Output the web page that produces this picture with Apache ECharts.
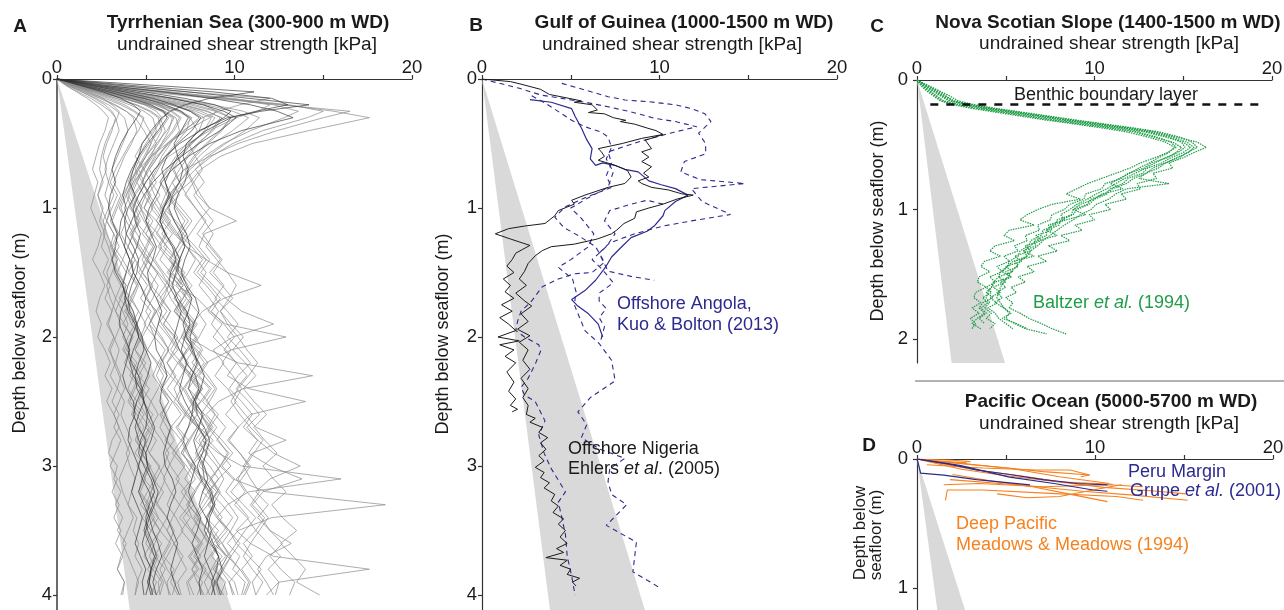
<!DOCTYPE html>
<html>
<head>
<meta charset="utf-8">
<script src="https://cdn.jsdelivr.net/npm/echarts@6/dist/echarts.min.js"></script>
<style>
  html, body { margin: 0; padding: 0; background: #fff; }
  #chart { width: 1284px; height: 610px; }
</style>
</head>
<body>
<div id="chart"></div>
<script>
// ---- data (kPa vs depth in m) ----
const strengthTicks = [0, 5, 10, 15, 20];
const strengthLabels = [0, 10, 20];

// A: Tyrrhenian Sea, shared depth steps
const aDepth = [0,0.05,0.1,0.15,0.2,0.25,0.3,0.4,0.5,0.6,0.7,0.8,0.9,1.0,1.1,1.2,1.3,1.4,1.5,1.6,1.7,1.8,1.9,2.0,2.1,2.2,2.3,2.4,2.5,2.6,2.7,2.8,2.9,3.0,3.1,3.2,3.3,3.4,3.5,3.6,3.7,3.8,3.9,4.0];
const tyrrhenianGrey = [
  [0,0.9,1.8,2.6,3.1,3.5,3.4, 3.0,2.7,2.5,2.4,2.6,2.3,2.5, 2.8,2.6,2.9,3.1,2.8,3.0,3.3,3.1,2.9,3.2, 3.5,3.3,3.6,3.4,3.8,3.6,3.9,4.2,3.9,4.1, 4.4,4.2,4.0,4.5,4.3,4.6,4.4,4.8,4.5,4.4],
  [0,1.5,3.2,4.6,5.8,6.3,6.0, 5.4,4.8,4.4,4.9,4.3,4.0,4.4, 4.7,4.2,4.5,5.1,4.8,5.3,5.0,5.6,5.2,5.5, 6.1,5.7,5.4,5.9,6.3,5.8,6.2,6.6,6.1,6.4, 6.9,6.5,6.2,6.7,7.1,6.6,6.9,7.3,6.8,7.0],
  [0,2.2,5.5,9.2,12.8,15.6,17.6, 14.2,11.0,9.2,8.1,7.5,6.6,6.0, 5.6,6.1,5.7,6.3,6.8,6.4,7.0,6.6,7.2,7.8, 7.3,6.9,7.5,8.1,7.7,8.3,7.9,8.4,8.0,8.6, 9.1,8.5,8.8,9.3,8.7,9.0,9.6,9.2,8.9,9.4],
  [0,2.0,5.0,8.8,12.6,16.5,15.0, 12.4,10.2,8.6,7.2,6.5,6.9,6.2, 5.8,5.4,5.9,5.5,6.0,6.6,6.1,5.7,6.3,6.8, 6.4,7.0,7.6,7.1,6.8,7.3,7.9,7.4,7.0,7.7, 8.2,7.8,7.4,8.0,8.5,8.1,7.7,8.3,8.8,8.4],
  [0,0.8,1.9,2.9,3.8,4.4,4.9, 4.6,4.1,3.7,3.3,3.0,3.4,3.1, 2.8,3.2,3.5,3.1,3.4,3.9,3.6,3.3,3.8,4.2, 3.8,4.1,4.6,4.3,4.0,4.5,4.9,4.5,4.8,5.2, 4.9,4.6,5.1,5.5,5.0,5.3,5.7,5.4,5.1,5.6],
  [0,1.4,3.0,4.8,6.4,7.5,8.0, 7.2,6.3,5.6,5.1,4.8,5.3,4.9, 5.6,6.2,5.8,6.5,7.2,6.8,7.9,8.6,9.5,12.9, 9.8,8.4,7.9,8.6,8.1,7.4,8.0,8.8,8.2,7.6, 8.3,9.0,8.5,7.9,8.6,9.2,8.7,9.4,8.9,9.1],
  [0,1.1,2.6,4.1,5.5,6.4,6.9, 6.5,5.9,5.3,4.8,4.5,4.9,5.4, 5.0,5.7,6.2,5.8,6.4,7.1,6.6,7.3,7.9,7.4, 8.6,10.2,14.4,10.5,9.1,8.4,9.0,8.5,9.2,9.8, 9.1,8.6,9.3,9.9,9.4,8.8,9.6,10.3,9.7,9.9],
  [0,1.6,3.4,5.3,7.0,8.4,9.3, 8.8,7.9,7.3,6.6,6.9,6.3,6.8, 7.4,6.9,7.6,8.2,7.7,8.4,9.0,8.5,9.3,8.8, 9.5,10.1,9.6,10.8,14.0,10.9,10.2,9.6,10.3,10.9, 10.4,9.8,10.5,11.2,10.6,10.1,10.8,11.5,11.0,11.2],
  [0,1.0,2.3,3.7,5.0,5.9,6.3, 5.8,5.2,4.7,4.4,4.8,4.3,4.7, 5.2,4.8,5.4,5.0,5.7,6.3,5.8,6.4,6.0,6.7, 7.3,6.8,7.4,8.0,7.5,8.1,8.7,8.2,9.1,10.4, 16.0,10.8,9.6,9.0,9.7,10.3,9.8,9.3,10.0,10.2],
  [0,1.3,2.9,4.5,6.0,7.0,7.6, 7.0,6.2,5.7,5.2,5.6,5.1,5.5, 6.0,5.6,6.2,6.8,6.3,6.9,7.5,7.0,7.7,7.2, 7.9,8.5,8.0,8.7,8.2,8.9,9.5,9.0,9.7,9.2, 9.9,11.8,18.5,12.1,10.2,9.6,10.3,9.9,10.6,10.4],
  [0,1.2,2.8,4.3,5.6,6.5,7.0, 6.6,6.0,5.4,4.9,5.3,5.8,5.3, 5.9,6.5,6.0,6.7,6.2,6.9,7.6,7.1,7.8,7.3, 8.1,7.6,8.3,8.9,8.4,9.1,8.6,9.3,9.9,9.3, 10.0,9.5,10.2,10.8,10.1,10.9,12.2,17.6,12.5,11.8],
  [0,1.7,3.7,5.7,7.5,8.9,9.8, 9.2,8.4,7.7,7.2,7.6,7.9,8.6, 10.1,8.3,8.0,8.6,8.1,8.8,9.5,10.4,12.2,9.9, 8.8,9.4,8.9,9.6,10.1,9.5,10.2,9.7,10.3,10.8, 10.1,10.6,10.0,10.7,11.2,10.5,11.0,10.4,10.9,10.6],
  [0,2.5,6.2,9.5,12.0,11.3,10.1, 8.6,7.4,6.3,5.5,5.0,4.6,4.2, 4.5,4.1,4.6,5.0,4.6,5.1,4.7,5.3,4.9,5.5, 5.1,5.7,6.2,5.8,6.3,5.9,6.5,6.1,6.7,7.2, 6.7,7.3,6.9,7.5,7.0,7.6,8.1,7.6,8.2,7.9],
  [0,0.6,1.4,2.2,2.9,3.4,3.8, 4.0,3.7,3.4,3.1,2.9,2.7,3.0, 2.8,3.2,3.0,3.4,3.2,3.6,3.3,3.7,4.0,3.7, 4.1,3.8,4.3,4.0,4.5,4.2,4.7,4.4,4.9,4.5, 5.0,4.7,5.2,4.8,5.3,5.0,5.5,5.1,5.6,5.3],
  [0,1.9,4.2,6.6,8.8,10.5,11.4, 10.6,9.5,8.5,7.8,8.3,7.7,8.2, 8.8,8.2,8.7,9.3,8.8,9.4,8.9,9.6,10.2,9.6, 10.3,10.9,10.2,9.7,10.4,11.0,10.5,11.3,10.8,12.0, 13.8,11.6,11.0,11.7,11.2,11.9,12.6,11.9,12.5,12.3],
  [0,1.0,2.4,3.8,5.1,6.0,6.6, 6.2,5.6,5.0,4.5,4.1,3.8,3.5, 3.9,3.6,4.0,4.4,4.0,4.5,4.1,4.6,4.2,4.8, 4.4,5.0,4.6,5.2,4.8,5.4,5.0,5.6,5.2,5.8, 5.4,6.0,5.6,6.2,5.8,6.4,6.0,6.6,6.2,6.3],
  [0,1.8,4.0,6.3,8.3,9.0,8.6, 7.3,6.2,5.3,4.6,4.1,3.7,3.4, 3.1,3.5,3.2,3.7,3.4,3.9,3.5,4.1,3.7,4.3, 3.9,4.5,4.1,4.7,4.3,4.9,4.5,5.1,4.7,5.3, 4.9,5.5,5.1,5.7,5.3,5.9,5.5,6.1,5.7,5.8],
  [0,0.7,1.6,2.5,3.3,3.9,4.3, 4.5,4.2,3.8,3.5,3.2,3.6,3.3, 3.0,3.4,3.1,3.5,3.9,3.6,4.2,3.8,4.4,4.0, 3.7,4.3,4.8,4.4,4.1,4.7,5.2,4.8,4.4,5.0, 5.5,5.1,4.7,5.3,5.8,5.3,4.9,5.4,5.9,5.6],
  [0,1.5,3.3,5.1,6.8,8.1,8.9, 8.4,7.6,6.9,6.3,5.8,6.4,6.0, 6.7,7.3,6.8,6.3,7.0,7.6,7.1,6.6,7.3,7.9, 7.4,6.9,7.6,8.2,7.7,7.2,7.9,8.5,8.0,7.5, 8.2,8.8,8.3,7.8,8.5,9.1,8.6,8.1,8.8,8.9],
  [0,1.2,2.7,4.3,5.7,6.8,7.5, 7.9,7.4,7.8,8.2,7.7,8.1,8.6, 8.0,7.5,7.0,6.6,7.1,6.7,7.3,6.8,7.5,7.0, 7.7,7.2,7.9,7.4,8.1,7.6,8.3,7.8,8.5,8.0, 8.7,8.2,8.9,8.4,9.1,8.6,9.3,8.8,9.5,9.2],
  [0,0.5,1.1,1.7,2.2,2.6,2.9, 2.7,2.4,2.2,2.0,2.3,2.1,1.9, 2.2,2.5,2.3,2.0,2.4,2.7,2.4,2.2,2.5,2.3, 2.7,3.0,2.7,3.1,2.8,3.2,3.5,3.1,2.9,3.4, 3.2,3.6,3.3,3.7,3.4,3.9,3.6,3.4,3.8,3.7],
  [0,2.7,6.4,9.9,12.2,13.6,12.8, 10.9,9.4,8.3,7.5,6.9,6.3,5.9, 6.4,5.9,6.5,7.0,6.5,7.1,6.6,7.2,7.7,7.2, 7.8,8.3,7.7,8.2,7.6,8.3,8.8,8.2,8.7,9.2, 8.6,9.1,8.5,9.0,9.6,9.0,9.5,8.9,9.4,9.6],
  [0,1.1,2.4,3.7,4.9,5.6,5.9, 5.5,5.0,4.6,4.3,4.0,4.4,4.8, 4.4,5.0,5.5,5.1,5.7,5.3,5.9,6.4,6.0,6.6, 6.2,6.8,6.4,7.0,6.6,7.2,6.8,7.4,7.0,7.6, 7.2,7.8,7.4,8.0,7.6,8.2,7.8,8.4,8.0,8.2],
  [0,3.2,7.3,12.0,10.3,9.1,8.2, 7.1,6.3,5.7,5.2,4.8,5.2,4.9, 5.4,5.0,5.5,5.1,5.6,6.1,5.6,6.2,5.7,6.3, 6.8,6.2,6.7,6.2,6.8,7.3,6.7,7.2,6.7,7.3, 7.8,7.2,7.7,7.1,7.6,8.1,7.5,8.0,7.4,7.7],
  [0,0.9,2.1,3.3,4.4,5.2,5.7, 5.9,5.5,5.0,4.6,4.9,4.4,4.1, 4.6,4.2,4.7,5.2,4.8,5.4,5.0,5.6,5.2,5.8, 6.3,5.8,6.4,5.9,6.5,7.0,6.4,7.0,6.5,7.1, 7.6,7.0,7.5,6.9,7.5,8.0,7.4,7.9,7.3,7.5],
  [0,1.3,3.0,4.8,6.5,7.8,8.7, 8.3,7.6,7.0,6.5,6.9,6.4,7.0, 7.6,7.1,7.8,8.4,7.9,8.6,9.2,8.7,9.4,10.0, 9.4,10.1,10.7,10.1,10.8,11.4,10.7,11.3,12.2,13.7, 12.0,11.2,11.9,11.3,12.0,12.7,12.0,12.6,13.4,13.1],
  [0,1.8,3.9,6.0,7.8,9.1,9.8, 9.3,8.5,7.8,7.3,7.7,7.2,7.8, 8.4,7.9,8.6,9.2,8.6,9.3,9.9,9.2,9.8,10.5, 9.9,10.6,11.2,10.5,11.1,11.8,11.1,11.7,12.4,11.6, 12.2,12.9,12.1,12.7,13.5,12.6,13.3,14.0,13.5,14.8],
  [0,0.6,1.4,2.1,2.7,3.1,3.3, 3.1,2.8,2.6,2.8,2.5,2.3,2.6, 2.4,2.7,2.5,2.9,2.6,3.0,2.7,3.1,2.8,3.2, 2.9,3.3,3.0,3.4,3.1,3.5,3.2,3.6,3.3,3.0, 3.4,3.1,3.5,3.2,3.6,3.3,3.7,3.4,3.8,3.6],
  [0,1.2,2.6,4.0,5.2,6.1,6.7, 6.9,6.4,5.9,5.6,5.2,5.5,5.9, 6.3,6.8,7.2,6.9,6.5,6.1,6.4,6.9,7.3,7.0, 6.6,6.2,6.6,7.1,7.5,7.9,7.4,7.0,7.3,7.8, 8.2,7.7,7.3,7.6,8.1,8.5,8.0,7.6,7.9,8.3],
  [0,0.8,1.7,2.7,3.6,4.3,4.8, 5.2,5.6,5.3,4.9,4.5,4.2,4.5, 4.9,5.3,5.0,4.6,4.3,4.7,5.1,5.5,5.2,4.8, 5.1,5.6,6.0,5.7,5.3,5.0,5.4,5.9,6.3,6.0, 5.6,5.3,5.7,6.2,6.6,6.3,5.9,6.2,6.7,6.5],
  [0,1.9,4.1,6.4,8.4,9.9,10.8, 9.9,8.8,8.0,7.4,6.9,7.3,7.8, 8.3,8.8,8.4,9.0,9.6,10.1,9.7,9.2,9.6,10.2, 10.7,11.3,10.8,10.2,9.8,10.3,10.9,11.6,11.1,10.6, 10.2,10.7,11.3,11.9,11.4,10.9,10.5,11.0,11.6,11.2],
  [0,0.7,1.5,2.4,3.2,3.9,4.4, 4.9,5.3,5.0,4.6,4.3,3.9,3.6, 3.9,4.3,4.0,3.7,4.1,4.6,4.3,3.9,4.2,4.7, 5.1,4.8,4.4,4.8,5.3,5.7,5.3,4.9,5.2,5.7, 6.1,5.8,5.4,5.7,6.2,6.6,6.2,5.8,6.1,6.4],
  [0,2.4,5.8,9.6,13.1,15.0,14.1, 11.6,9.9,8.7,7.8,7.1,6.6,6.2, 6.6,7.1,6.8,6.4,6.9,7.4,7.1,6.7,7.2,7.8, 8.2,7.8,7.4,7.9,8.5,8.9,8.5,8.0,8.4,9.0, 9.4,9.0,8.6,9.1,9.7,10.1,9.6,9.2,9.7,10.0],
  [0,1.0,2.2,3.4,4.5,5.3,5.8, 6.1,5.7,5.2,4.8,4.4,4.1,3.8, 4.1,4.5,4.9,5.4,5.9,6.3,6.0,5.6,5.9,6.4, 6.9,7.4,7.0,6.6,6.9,7.4,7.9,7.5,7.1,7.5, 8.0,8.5,8.1,7.7,8.1,8.6,9.1,8.7,8.3,8.6],
  [0,0.5,1.2,1.9,2.5,3.0,3.3, 3.5,3.2,2.9,2.7,2.9,3.2,2.9, 2.6,2.8,3.1,3.4,3.1,2.8,3.0,3.3,3.6,3.3, 3.0,3.2,3.5,3.8,3.5,3.2,3.5,3.8,4.1,3.8, 3.5,3.7,4.0,4.3,4.0,3.7,4.0,4.3,4.6,4.4],
  [0,1.6,3.5,5.5,7.2,8.5,9.2, 8.7,8.0,7.4,6.9,6.5,6.1,5.8, 6.2,6.7,7.3,7.8,7.4,6.9,7.3,7.9,8.4,8.0, 7.5,7.9,8.5,9.0,8.6,8.1,8.5,9.1,9.6,9.2, 8.7,9.1,9.7,10.2,9.8,9.3,9.7,10.3,10.8,10.5],
  [0,1.1,2.4,3.8,5.0,5.9,6.5, 6.3,5.9,5.5,5.1,4.8,5.2,5.7, 6.1,6.6,7.3,8.4,9.6,11.5,9.4,8.2,7.6,7.1, 7.5,8.0,7.6,7.2,7.6,8.1,8.6,8.2,7.8,8.2, 8.7,9.2,8.8,8.4,8.8,9.3,9.8,9.4,9.0,9.3],
  [0,1.3,2.9,4.4,5.8,6.9,7.5, 7.3,6.7,6.1,5.7,5.3,5.0,4.7, 5.0,5.4,5.1,4.8,5.2,5.7,5.4,5.0,5.4,5.9, 6.3,5.9,5.6,6.0,6.5,6.1,5.8,6.2,6.7,6.3, 6.0,6.4,6.9,6.5,6.2,6.6,7.1,6.7,6.4,6.8],
  [0,1.4,3.1,4.9,6.4,7.6,8.3, 8.0,7.3,6.7,6.2,5.8,6.2,6.7, 7.2,6.8,7.3,7.9,8.4,8.0,8.6,9.1,8.7,9.3, 9.8,9.3,9.9,10.4,10.0,10.6,11.2,12.9,11.0,10.5, 10.9,11.4,10.9,11.5,12.0,13.2,11.8,11.3,11.8,12.2],
  [0,0.9,2.0,3.1,4.1,4.9,5.4, 5.6,5.3,4.9,4.5,4.2,3.9,4.2, 4.6,4.3,4.0,4.4,4.8,4.5,4.2,4.6,5.0,4.7, 4.4,4.8,5.2,4.9,4.6,5.0,5.4,5.1,4.8,5.2, 5.6,5.3,5.0,5.4,5.8,5.5,5.2,5.6,6.0,5.8]
];
const tyrrhenianDark = [
  [0,5.5,11.1,8.6,7.2,6.4,5.9, 5.3,4.8,4.6,4.3,4.1,4.4,4.0, 3.8,3.9,4.3,4.6,4.5,4.2,4.0,4.1,4.5,4.8, 4.9,4.6,4.4,4.5,4.9,5.1,5.0,4.7,4.6,4.9, 5.3,5.5,5.2,5.0,5.1,5.4,5.6,5.3,5.2,5.4],
  [0,3.6,7.4,10.8,14.2,11.5,9.6, 8.0,7.3,7.1,7.4,7.2,6.8,6.6, 6.9,7.3,7.5,7.2,7.0,7.3,7.8,8.0,7.7,7.5, 7.6,8.0,8.3,8.1,7.8,7.9,8.3,8.6,8.4,8.2, 8.3,8.7,8.9,8.6,8.5,8.8,9.1,9.0,8.7,8.9],
  [0,2.8,6.0,8.7,10.9,12.4,13.3, 10.4,8.6,7.4,6.5,5.9,5.6,5.2, 5.0,5.3,5.6,5.4,5.1,5.2,5.6,5.9,5.7,5.5, 5.6,6.0,6.2,5.9,5.8,6.1,6.4,6.2,6.0,6.1, 6.5,6.7,6.4,6.2,6.5,6.8,6.6,6.4,6.6,6.9],
  [0,1.9,3.8,5.4,6.6,7.5,8.1, 7.6,6.8,6.2,5.9,6.1,6.4,6.0, 5.8,6.1,6.6,6.9,6.7,6.5,6.8,7.3,7.5,7.2, 7.0,7.3,7.8,8.0,7.7,7.6,8.0,8.4,8.2,7.9, 8.1,8.6,8.8,8.5,8.3,8.7,9.1,9.3,9.0,9.2],
  [0,1.3,2.6,3.6,4.3,4.7,4.5, 4.0,3.6,3.3,3.1,3.3,3.0,2.9, 3.1,3.4,3.3,3.1,3.3,3.7,3.9,3.6,3.5,3.8, 4.1,3.9,3.7,3.9,4.3,4.4,4.1,4.0,4.3,4.6, 4.4,4.2,4.5,4.8,4.6,4.4,4.7,5.0,4.8,4.9],
  [0,2.4,4.9,7.2,8.9,9.8,9.4, 8.1,6.9,6.1,5.5,5.0,4.6,4.3, 4.4,4.7,4.5,4.2,4.3,4.7,5.0,4.8,4.5,4.6, 5.0,5.3,5.1,4.8,4.9,5.2,5.5,5.3,5.0,5.1, 5.4,5.7,5.5,5.2,5.4,5.7,5.9,5.6,5.4,5.6],
  [0,1.6,3.3,4.9,6.1,7.0,7.4, 7.0,6.6,6.8,7.1,6.9,6.5,6.3, 6.6,7.0,7.2,6.9,6.8,7.2,7.6,7.4,7.1,7.3, 7.7,7.9,7.6,7.4,7.8,8.2,8.0,7.7,7.9,8.3, 8.5,8.2,8.0,8.4,8.7,8.5,8.3,8.6,8.9,8.7],
  [0,2.1,4.4,6.5,8.2,9.4,10.1, 9.2,8.0,7.0,6.1,5.4,4.9,4.5, 4.2,3.9,3.8,4.1,4.3,4.0,3.8,4.0,4.4,4.6, 4.3,4.1,4.3,4.7,4.9,4.6,4.4,4.6,5.0,5.1, 4.8,4.6,4.9,5.2,5.0,4.8,5.0,5.3,5.2,5.0],
  [0,4.2,8.8,12.1,13.0,11.2,9.8, 8.4,7.5,6.8,6.4,6.1,6.3,6.0, 5.8,6.1,6.5,6.7,6.4,6.3,6.7,7.0,6.8,6.6, 6.9,7.3,7.1,6.9,7.2,7.6,7.4,7.1,7.4,7.8, 7.6,7.4,7.7,8.1,7.9,7.6,7.9,8.2,8.0,8.1],
  [0,1.4,2.9,4.2,5.3,6.0,6.2, 5.7,5.1,4.6,4.2,3.9,3.7,3.9, 3.6,3.5,3.8,4.1,3.9,3.7,3.9,4.3,4.5,4.2, 4.0,4.2,4.6,4.8,4.5,4.3,4.6,5.0,4.8,4.6, 4.8,5.2,5.4,5.1,4.9,5.2,5.5,5.3,5.1,5.3]
];

// B: Gulf of Guinea, [kPa, depth] points
const nigeriaLong = [[0,0],[1.6,0.02],[2.2,0.04],[3.3,0.08],[3.8,0.12],[4.9,0.15],[5.6,0.17],[5.2,0.18],[6.2,0.2],[6.5,0.24],[6.0,0.26],[6.9,0.27],[7.4,0.3],[8.1,0.32],[7.8,0.33],[8.6,0.35],[9.3,0.38],[9.8,0.4],[10.2,0.43],[9.2,0.475],[9.55,0.54],[9.0,0.565],[9.4,0.605],[9.0,0.64],[9.55,0.68],[9.1,0.73],[9.4,0.76],[8.8,0.79],[9.0,0.81],[9.55,0.84],[10.5,0.86],[11.25,0.89],[11.9,0.9],[11.0,0.93],[10.2,0.97],[9.4,1.0],[8.7,1.03],[8.6,1.08],[8.0,1.12],[7.6,1.17],[7.3,1.2],[6.5,1.24],[5.2,1.28],[3.9,1.3],[3.4,1.33],[3.0,1.37],[2.6,1.43],[2.4,1.49],[2.1,1.55],[2.5,1.6],[1.9,1.66],[2.4,1.72],[2.8,1.76],[2.2,1.82],[2.6,1.88],[2.0,1.94],[2.7,1.99],[2.1,2.04],[2.6,2.1],[2.3,2.18],[2.7,2.25],[2.2,2.32],[2.6,2.4],[2.3,2.47],[2.6,2.53],[2.5,2.6],[3.0,2.63],[2.7,2.66],[3.4,2.7],[3.2,2.74],[3.7,2.78],[3.3,2.82],[3.6,2.87],[3.2,2.92],[3.5,2.96],[3.0,3.01],[3.5,3.05],[3.3,3.09],[3.8,3.13],[3.5,3.17],[4.1,3.22],[3.9,3.27],[4.3,3.31],[4.0,3.36],[4.6,3.41],[4.3,3.45],[4.7,3.5],[4.4,3.55],[4.8,3.6],[4.2,3.64],[4.6,3.67],[3.6,3.71],[4.8,3.73],[4.4,3.77],[5.0,3.8],[4.8,3.84],[5.5,3.87],[5.1,3.9],[5.3,3.93]];
const nigeriaShort = [[10.2,0.43],[9.0,0.46],[7.9,0.5],[6.55,0.54],[6.7,0.56],[6.9,0.6],[6.55,0.63],[7.3,0.66],[7.7,0.68],[8.2,0.71],[8.4,0.76],[8.05,0.81],[7.1,0.84],[5.8,0.9],[5.05,0.94],[5.2,0.97],[4.3,1.02],[4.1,1.06],[3.55,1.12],[2.4,1.14],[1.5,1.16],[0.75,1.2],[1.6,1.24],[2.7,1.29],[2.3,1.32],[1.9,1.35],[1.7,1.4],[1.4,1.45],[1.8,1.5],[1.2,1.55],[1.6,1.6],[1.3,1.65],[1.8,1.7],[1.1,1.75],[1.7,1.8],[1.0,1.85],[1.5,1.9],[1.9,1.95],[0.9,2.0],[2.1,2.03],[1.0,2.06],[1.8,2.1],[1.3,2.15],[1.9,2.2],[1.4,2.27],[1.8,2.35],[1.5,2.42],[1.9,2.48],[1.6,2.53],[2.0,2.56],[1.7,2.58]];
const angolaSolid = [[2.7,0.16],[3.9,0.18],[5.05,0.23],[5.25,0.29],[5.6,0.38],[5.9,0.47],[6.2,0.54],[6.1,0.62],[6.4,0.67],[6.8,0.65],[7.5,0.67],[8.05,0.7],[8.8,0.72],[9.4,0.79],[10.1,0.82],[10.9,0.85],[11.6,0.9],[10.9,0.95],[10.3,1.02],[10.2,1.06],[9.7,1.14],[9.3,1.18],[8.4,1.23],[7.8,1.31],[7.3,1.38],[7.0,1.45],[6.4,1.56],[5.8,1.64],[5.05,1.71],[5.4,1.76],[6.0,1.82],[6.55,1.9],[6.8,2.0]];
const angolaDashed = [
  [[0,0],[2.05,0.07],[3.35,0.125],[4.5,0.15],[5.8,0.18],[7.1,0.215],[8.4,0.255],[9.75,0.305],[10.9,0.33],[12.1,0.37],[10.6,0.42],[9.0,0.48],[7.1,0.565],[7.3,0.65],[7.0,0.75],[7.3,0.84],[5.8,0.92],[4.7,0.99],[4.1,1.07],[4.6,1.15],[5.5,1.22],[6.4,1.3],[6.9,1.42],[6.2,1.5],[5.2,1.51],[4.3,1.55],[3.4,1.61],[2.8,1.72],[2.2,1.8],[2.0,1.88],[1.9,1.95],[2.4,2.0],[3.2,2.06],[3.3,2.11],[3.0,2.21],[2.6,2.32],[2.2,2.39],[2.4,2.45],[3.0,2.5],[3.55,2.65],[3.2,2.76],[3.5,2.9],[3.9,3.02],[4.7,3.2],[4.3,3.28],[4.5,3.4],[4.7,3.53],[4.8,3.7],[5.05,3.85],[5.24,4.0]],
  [[4.5,0.034],[5.8,0.085],[7.1,0.137],[8.06,0.163],[9.4,0.176],[10.9,0.2],[11.8,0.23],[12.56,0.27],[12.9,0.33],[12.2,0.42],[12.6,0.5],[12.6,0.58],[11.4,0.64],[11.2,0.72],[12.3,0.78],[14.8,0.81],[11.8,0.85],[12.4,0.95],[14.0,1.05],[11.8,1.1],[10.2,1.14],[8.6,1.2],[7.2,1.27],[6.6,1.35],[7.1,1.49],[8.4,1.53],[9.7,1.56]],
  [[2.8,0.13],[3.6,0.19],[4.5,0.27],[5.05,0.32],[5.8,0.37],[6.7,0.41],[7.1,0.45],[7.3,0.53],[7.0,0.62],[7.4,0.72],[7.1,0.84],[6.0,0.92],[5.0,1.0],[5.6,1.08],[6.3,1.2],[6.0,1.3],[5.0,1.4],[4.3,1.46],[5.1,1.55],[5.3,1.65],[5.2,1.75],[5.5,1.85],[5.8,1.95],[6.6,2.05],[7.3,2.18],[7.5,2.34],[6.1,2.47],[5.4,2.58],[5.9,2.68],[5.6,2.78],[6.65,2.87],[8.05,2.94],[7.2,3.02],[7.1,3.12],[7.3,3.22],[8.15,3.3],[7.0,3.46],[8.7,3.59],[8.5,3.82],[10.1,3.95]],
  [[10.2,0.97],[9.3,0.94],[8.4,0.97],[7.2,1.02],[6.9,1.1],[7.5,1.2],[7.0,1.3],[6.2,1.4],[6.8,1.48],[7.4,1.58],[6.6,1.66],[6.6,1.72],[7.0,1.78],[6.6,1.85],[6.9,1.92],[6.7,2.02]]
];

// C: Nova Scotian Slope, shared depth steps
const cDepth = [0,0.04,0.08,0.12,0.16,0.19,0.22,0.25,0.28,0.31, 0.34,0.37,0.40,0.44,0.48,0.52,0.56,0.60,0.64,0.68, 0.72,0.76,0.80,0.84,0.88,0.92,0.96,1.00,1.04,1.08, 1.12,1.16,1.20,1.24,1.28,1.32,1.36,1.40,1.44,1.48, 1.52,1.56,1.60,1.64,1.68,1.72,1.76,1.80,1.84,1.88, 1.92,1.96];
const baltzer = [
  [0,0.3,0.7,1.0,1.4,2.2,3.4,4.8,6.2,7.6, 9.2,10.8,12.2,13.3,14.4,14.9,14.6,14.1,13.2,12.8, 11.9,11.5,10.6,10.4,9.5,9.4,8.6,8.3,7.6,7.5, 6.8,6.9,6.1,6.2,5.5,5.7,4.9,5.2,4.5,4.8, 4.1,4.4,3.9,4.2,3.7,4.0,3.6,3.9,3.5,3.8],
  [0,0.5,1.0,1.5,2.1,3.0,4.3,5.8,7.3,8.8, 10.4,12.0,13.4,14.6,15.8,16.3,15.6,15.0,14.2,14.4, 13.3,13.5,12.4,12.6,11.5,11.8,10.6,10.9,9.7,10.0, 8.9,9.3,8.1,8.6,7.4,7.9,6.8,7.3,6.2,6.6, 5.7,6.1,5.3,5.6,5.0,5.4,5.2,5.8,6.3,7.0, 7.6,8.4],
  [0,0.4,0.8,1.3,1.8,2.7,3.9,5.3,6.8,8.2, 9.8,11.4,12.8,14.0,15.0,15.4,15.0,14.3,13.8,13.0, 12.7,11.9,11.6,10.9,10.6,9.8,9.6,8.8,8.7,7.9, 7.8,7.1,7.0,6.4,6.3,5.8,5.7,5.2,5.1,4.7, 4.6,4.3,4.2,4.0,3.9,4.1,3.8,4.2,3.9,4.4, 4.1],
  [0,0.2,0.5,0.9,1.3,2.0,3.1,4.5,5.9,7.3, 8.9,10.4,11.8,13.0,14.0,14.5,14.2,13.6,13.1,12.5, 12.0,11.4,10.9,11.6,10.4,10.0,9.2,8.8,9.5,8.4, 7.6,7.3,7.9,6.8,6.4,6.0,6.6,5.4,5.1,4.8, 5.3,4.4,4.2,3.9,4.3,3.7,3.5,3.8,3.4,3.1, 3.6],
  [0,0.6,1.2,1.8,2.3,3.2,4.5,6.0,7.5,9.0, 10.6,12.2,13.6,14.8,15.5,15.8,15.2,14.8,14.0,13.6, 12.9,12.5,14.2,11.8,11.2,10.8,10.1,9.8,9.2,8.8, 8.3,7.9,7.5,7.1,6.8,6.4,6.2,5.8,5.6,5.3, 5.1,4.9,4.7,4.6,4.5,4.7,4.9,5.2,5.0,5.5, 6.1,7.3],
  [0,0.4,0.9,1.4,1.9,2.8,4.0,5.5,7.0,8.4, 10.0,11.6,13.0,14.2,14.9,15.1,14.7,14.0,13.4,12.9, 12.3,11.7,11.2,10.7,10.1,9.6,9.0,8.6,8.1,8.3, 7.4,7.6,6.7,7.0,6.1,6.4,5.5,5.9,5.0,5.4, 4.6,5.0,4.3,4.7,4.1,4.5,4.0,4.4,4.6,5.0, 5.4],
  [0,0.3,0.6,1.1,1.5,2.4,3.6,5.0,6.4,7.8, 9.4,11.0,12.4,13.5,14.3,14.6,14.1,13.4,12.6,12.0, 11.2,10.4,9.6,9.0,8.4,9.2,7.6,6.8,6.2,5.8, 6.6,5.2,4.9,5.5,4.4,4.1,4.7,3.8,3.6,4.1, 3.5,3.4,3.9,3.3,3.2,3.6,3.1,3.5,3.0,3.3, 3.1],
  [0,0.5,1.1,1.6,2.0,2.9,4.2,5.6,7.1,8.6, 10.2,11.8,13.2,14.4,15.2,15.6,15.3,14.6,14.0,13.3, 12.9,12.2,11.8,11.0,10.7,10.0,9.7,9.0,8.8,8.1, 8.0,7.3,7.3,6.6,6.7,6.0,6.2,5.5,5.7,5.0, 5.3,4.7,5.0,4.5,4.8,4.4,4.9,5.3,4.8,5.6, 6.2]
];
const benthicLayer = [[0.75,0.19],[19.6,0.19]];

// D: Pacific Ocean, [kPa, depth] points
const meadows = [
  [[0,0],[1.1,0.015],[2.8,0.03]],
  [[0,0],[2.0,0.01],[3.0,0.02]],
  [[0,0],[1.5,0.02],[3.35,0.047],[5.2,0.072],[7.1,0.098],[9.7,0.124]],
  [[0.2,0.01],[2.4,0.034],[5.2,0.072],[8.0,0.137],[10.8,0.19]],
  [[0.7,0.02],[3.35,0.085],[6.2,0.137],[8.0,0.176],[10.1,0.19],[11.0,0.196]],
  [[1.5,0.2],[3.5,0.19],[7.1,0.215],[10.8,0.2],[12.7,0.215]],
  [[1.6,0.32],[1.7,0.24],[3.7,0.24],[7.5,0.266],[11.2,0.29],[12.7,0.32]],
  [[1.85,0.16],[5.6,0.2],[9.3,0.25],[12.15,0.28],[15.2,0.32]],
  [[0.3,0.01],[2.5,0.08],[5.0,0.13],[7.5,0.17],[10.5,0.22],[13.5,0.25],[15.1,0.27]],
  [[2.0,0.12],[4.2,0.17],[6.5,0.215],[8.5,0.27],[10.7,0.33]],
  [[4.5,0.27],[6.2,0.3],[8.0,0.29],[10.85,0.215],[11.5,0.2]],
  [[0.55,0.045],[3.7,0.07],[6.7,0.085],[8.6,0.085],[9.7,0.124],[9.2,0.137]]
];
const grupe = [
  [[0,0],[0.1,0.05],[0.2,0.11],[1.5,0.125],[3.35,0.16],[6.35,0.2]],
  [[0,0],[1.8,0.04],[3.35,0.085],[5.2,0.12],[7.1,0.16],[9.0,0.19],[10.7,0.2]],
  [[0,0],[2.4,0.05],[5.2,0.14],[7.7,0.19],[9.9,0.24],[10.7,0.25]]
];

// grey reference wedges (vertices)
const wedgeA = [[0,0],[4.1,4.116],[9.85,4.116]];
const wedgeB = [[0,0],[3.83,4.116],[9.18,4.116]];
const wedgeC = [[0,0],[1.95,2.185],[4.96,2.185]];
const wedgeD = [[0,0],[1.14,1.17],[2.7,1.17]];

// ---- chart ----
const FONT = '"Liberation Sans", Arial, sans-serif';
const BLUE = '#2d2a8e';
const GREEN = '#1f9d48';
const ORANGE = '#f5821f';

const chart = echarts.init(document.getElementById('chart'), null, { renderer: 'canvas' });

const grids = [
  { left: 57, top: 79, width: 355, height: 531 },
  { left: 482, top: 79, width: 355, height: 531 },
  { left: 917, top: 80, width: 355, height: 283 },
  { left: 917, top: 459, width: 356, height: 151 }
].map(g => Object.assign({ outerBoundsMode: 'none', containLabel: false }, g));

function xAxis(i) {
  return {
    gridIndex: i, type: 'value', position: 'top', min: 0, max: 20,
    axisLine: { show: true, onZero: false, lineStyle: { color: '#333', width: 1.2 } },
    axisTick: { show: true, inside: false, length: 4, customValues: strengthTicks, lineStyle: { color: '#333', width: 1.2 } },
    axisLabel: { customValues: strengthLabels, margin: 2, fontSize: 18.5, color: '#1a1a1a', fontFamily: FONT },
    splitLine: { show: false }
  };
}
function yAxis(i, max, ticks, margin, line) {
  return {
    gridIndex: i, type: 'value', inverse: true, min: 0, max: max,
    axisLine: { show: true, onZero: false, lineStyle: line },
    axisTick: { show: true, length: 4, customValues: ticks, lineStyle: { color: '#333', width: 1.2 } },
    axisLabel: { customValues: ticks, margin: margin, fontSize: 18.5, color: '#1a1a1a', fontFamily: FONT },
    splitLine: { show: false }
  };
}

const series = [];
function wedge(i, pts) {
  series.push({
    type: 'custom', xAxisIndex: i, yAxisIndex: i, data: [[0, 0]], silent: true, z: 1,
    renderItem: (params, api) => ({
      type: 'polygon',
      shape: { points: pts.map(p => api.coord(p)) },
      style: { fill: '#d9d9d9' }
    })
  });
}
function line(i, data, style) {
  series.push({
    type: 'line', xAxisIndex: i, yAxisIndex: i, data: data,
    symbol: 'none', showSymbol: false, silent: true, z: 2,
    lineStyle: style
  });
}

wedge(0, wedgeA); wedge(1, wedgeB); wedge(2, wedgeC); wedge(3, wedgeD);

// A
tyrrhenianGrey.forEach(p => line(0, p.map((v, k) => [v, aDepth[k]]), { color: '#8a8a8a', width: 1, opacity: 0.7 }));
tyrrhenianDark.forEach(p => line(0, p.map((v, k) => [v, aDepth[k]]), { color: '#2e2e2e', width: 1, opacity: 0.65 }));

// B
angolaDashed.forEach(p => line(1, p, { color: BLUE, width: 1.1, type: [5, 4] }));
line(1, angolaSolid, { color: BLUE, width: 1.2 });
line(1, nigeriaLong, { color: '#1a1a1a', width: 1 });
line(1, nigeriaShort, { color: '#1a1a1a', width: 1 });

// C
baltzer.forEach(p => line(2, p.map((v, k) => [v, cDepth[k]]), { color: GREEN, width: 1.2, type: [1.5, 1] }));
line(2, benthicLayer, { color: '#111', width: 2.5, type: [8, 8] });

// D
meadows.forEach(p => line(3, p, { color: ORANGE, width: 1.1 }));
grupe.forEach(p => line(3, p, { color: BLUE, width: 1.2 }));

// ---- text ----
function txt(t, x, y, o) {
  o = o || {};
  const size = o.size || 18;
  return {
    type: 'text', x: x, y: y, rotation: o.rot || 0, silent: true, z: 10,
    style: {
      text: t,
      font: (o.bold ? 'bold ' : '') + size + 'px ' + FONT,
      fill: o.color || '#1a1a1a',
      align: o.align || 'center', textAlign: o.align || 'center',
      verticalAlign: 'middle', textVerticalAlign: 'middle',
      rich: o.rich
    }
  };
}
function italicRich(color) {
  return {
    n: { font: '18px ' + FONT, fill: color },
    i: { font: 'italic 18px ' + FONT, fill: color }
  };
}
const V = Math.PI / 2;
const graphics = [
  txt('A', 20, 27, { bold: true, size: 19 }),
  txt('Tyrrhenian Sea (300-900 m WD)', 248, 23, { bold: true, size: 19 }),
  txt('undrained shear strength [kPa]', 247, 45, { size: 19 }),
  txt('B', 476, 26, { bold: true, size: 19 }),
  txt('Gulf of Guinea (1000-1500 m WD)', 684, 23, { bold: true, size: 19 }),
  txt('undrained shear strength [kPa]', 672, 45, { size: 19 }),
  txt('C', 877, 27, { bold: true, size: 19 }),
  txt('Nova Scotian Slope (1400-1500 m WD)', 1108, 23, { bold: true, size: 19 }),
  txt('undrained shear strength [kPa]', 1109, 44, { size: 19 }),
  txt('D', 869, 446, { bold: true, size: 19 }),
  txt('Pacific Ocean (5000-5700 m WD)', 1111, 402, { bold: true, size: 19 }),
  txt('undrained shear strength [kPa]', 1109, 424, { size: 19 }),

  txt('Depth below seafloor (m)', 20, 333, { rot: V }),
  txt('Depth below seafloor (m)', 443, 334, { rot: V }),
  txt('Depth below seafloor (m)', 878, 221, { rot: V }),
  txt('Depth below', 860, 533, { rot: V, size: 17 }),
  txt('seafloor (m)', 876, 535, { rot: V, size: 17 }),

  txt('Benthic boundary layer', 1106, 95),
  txt('{n|Baltzer }{i|et al.}{n| (1994)}', 1033, 303, { align: 'left', color: GREEN, rich: italicRich(GREEN) }),
  txt('Offshore Angola,', 617, 304, { align: 'left', color: BLUE }),
  txt('Kuo & Bolton (2013)', 617, 325, { align: 'left', color: BLUE }),
  txt('Offshore Nigeria', 568, 449, { align: 'left' }),
  txt('{n|Ehlers }{i|et al}{n|. (2005)}', 568, 469, { align: 'left', rich: italicRich('#1a1a1a') }),
  txt('Peru Margin', 1128, 472, { align: 'left', color: BLUE }),
  txt('{n|Grupe }{i|et al.}{n| (2001)}', 1130, 491, { align: 'left', color: BLUE, rich: italicRich(BLUE) }),
  txt('Deep Pacific', 956, 524, { align: 'left', color: ORANGE }),
  txt('Meadows & Meadows (1994)', 956, 545, { align: 'left', color: ORANGE }),

  { type: 'line', silent: true, z: 10, shape: { x1: 915, y1: 381, x2: 1284, y2: 381 }, style: { stroke: '#9a9a9a', lineWidth: 1.5 } }
];

chart.setOption({
  animation: false,
  grid: grids,
  xAxis: [xAxis(0), xAxis(1), xAxis(2), xAxis(3)],
  yAxis: [
    yAxis(0, 4.116, [0, 1, 2, 3, 4], 5, { color: '#6b6b6b', width: 2 }),
    yAxis(1, 4.116, [0, 1, 2, 3, 4], 5, { color: '#333', width: 1.2 }),
    yAxis(2, 2.185, [0, 1, 2], 9, { color: '#333', width: 1.2 }),
    yAxis(3, 1.17, [0, 1], 9, { color: '#333', width: 1.2 })
  ],
  series: series,
  graphic: graphics
});
</script>
</body>
</html>
